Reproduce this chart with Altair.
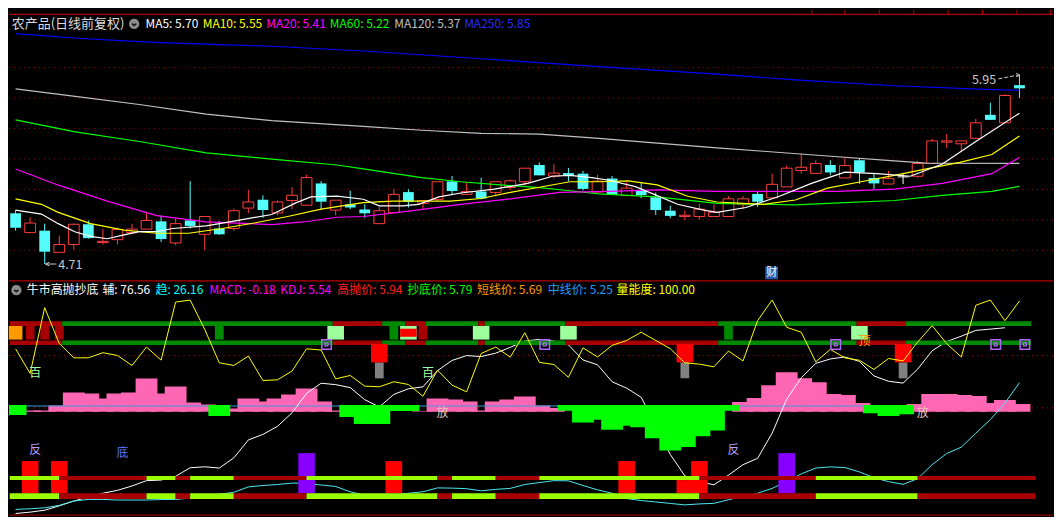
import altair as alt
import numpy as np
import pandas as pd

# ===================== DATA =====================
OPEN = [5.043, 4.916, 4.929, 4.787, 4.838, 4.971, 4.851, 4.870, 4.916, 4.939,
        4.990, 4.848, 4.996, 4.905, 4.943, 4.943, 5.077, 5.132, 5.045, 5.127,
        5.096, 5.239, 5.064, 5.102, 5.068, 4.975, 5.047, 5.182, 5.108, 5.134,
        5.252, 5.167, 5.186, 5.180, 5.212, 5.250, 5.360, 5.288, 5.307, 5.303,
        5.182, 5.271, 5.159, 5.191, 5.148, 5.060, 5.022, 5.022, 5.022, 5.022,
        5.100, 5.170, 5.144, 5.216, 5.324, 5.305, 5.360, 5.275, 5.391, 5.275,
        5.235, 5.282, 5.286, 5.370, 5.510, 5.499, 5.535, 5.689, 5.637, 5.884]
HIGH = [5.064, 5.017, 4.975, 4.897, 4.975, 4.996, 4.939, 4.950, 4.973, 5.047,
        5.028, 5.007, 5.254, 5.022, 4.992, 5.074, 5.195, 5.161, 5.128, 5.214,
        5.296, 5.254, 5.129, 5.191, 5.102, 5.085, 5.201, 5.201, 5.127, 5.250,
        5.288, 5.244, 5.277, 5.250, 5.265, 5.339, 5.377, 5.366, 5.341, 5.322,
        5.296, 5.288, 5.246, 5.250, 5.180, 5.093, 5.061, 5.106, 5.102, 5.155,
        5.155, 5.186, 5.303, 5.356, 5.434, 5.391, 5.391, 5.404, 5.402, 5.307,
        5.320, 5.303, 5.387, 5.531, 5.563, 5.518, 5.662, 5.768, 5.825, 5.951]
LOW = [4.929, 4.912, 4.710, 4.787, 4.804, 4.876, 4.838, 4.838, 4.910, 4.939,
       4.855, 4.834, 4.943, 4.802, 4.901, 4.929, 5.045, 5.013, 5.032, 5.070,
       5.096, 5.064, 5.030, 5.070, 5.013, 4.975, 5.047, 5.081, 5.066, 5.123,
       5.165, 5.167, 5.134, 5.155, 5.197, 5.225, 5.292, 5.271, 5.254, 5.193,
       5.182, 5.163, 5.155, 5.142, 5.032, 5.011, 4.997, 5.003, 5.022, 5.022,
       5.070, 5.085, 5.144, 5.216, 5.303, 5.305, 5.292, 5.275, 5.235, 5.203,
       5.235, 5.235, 5.275, 5.370, 5.472, 5.451, 5.535, 5.656, 5.637, 5.799]
CLOSE = [4.948, 4.979, 4.791, 4.838, 4.971, 4.880, 4.859, 4.937, 4.939, 4.996,
         4.874, 4.975, 4.960, 5.022, 4.905, 5.060, 5.117, 5.064, 5.117, 5.161,
         5.277, 5.119, 5.129, 5.081, 5.043, 5.060, 5.167, 5.119, 5.127, 5.250,
         5.189, 5.186, 5.140, 5.250, 5.256, 5.339, 5.292, 5.307, 5.292, 5.203,
         5.254, 5.163, 5.208, 5.163, 5.064, 5.026, 5.030, 5.070, 5.049, 5.138,
         5.138, 5.119, 5.233, 5.339, 5.345, 5.370, 5.311, 5.356, 5.311, 5.239,
         5.271, 5.282, 5.370, 5.518, 5.518, 5.518, 5.637, 5.656, 5.816, 5.863]

MA5_I = [0, 1.78, 2.93, 4.07, 5.16, 6.3, 7.45, 8.5, 9.68, 10.8, 13.1, 15.3, 17.6, 19.3,
         20.3, 22.1, 23.9, 25, 26.6, 27.7, 29.1, 30.6, 32.9, 35.2, 36.9, 38.1, 39.6, 40.8,
         42.6, 44.1, 45.5, 47.3, 48.2, 50.2, 52.5, 54.7, 57, 59.2, 61.5, 63.7, 66, 69]
MA5_V = [5.064, 5.038, 4.975, 4.922, 4.891, 4.876, 4.901, 4.922, 4.922, 4.943, 4.960, 4.997,
         5.035, 5.113, 5.151, 5.155, 5.135, 5.092, 5.092, 5.102, 5.151, 5.176, 5.201, 5.239,
         5.286, 5.292, 5.277, 5.260, 5.218, 5.159, 5.102, 5.064, 5.049, 5.081, 5.155, 5.239,
         5.313, 5.303, 5.286, 5.366, 5.514, 5.70]
MA10_I = [0, 1.78, 2.93, 5.16, 7.45, 9.68, 11.9, 14.2, 16.4, 18.7, 21, 23.9, 25.9, 29.9, 32,
          34, 36, 38.1, 40.1, 42.1, 44.1, 46.2, 48.2, 51.4, 53.6, 55.8, 58.1, 60.4, 62.6,
          64.9, 67.1, 69]
MA10_V = [5.138, 5.102, 5.049, 4.975, 4.933, 4.912, 4.912, 4.943, 4.979, 5.022, 5.070, 5.113,
          5.123, 5.123, 5.140, 5.180, 5.214, 5.250, 5.250, 5.256, 5.229, 5.155, 5.117, 5.102,
          5.130, 5.208, 5.250, 5.292, 5.334, 5.377, 5.429, 5.55]
MA20_I = [0, 2.9, 6.3, 9.7, 13.1, 17.6, 19.8, 22.1, 23.9, 27.3, 30.6, 34, 37.4, 40.8, 44.1,
          48.2, 56.5, 60.4, 63.7, 67.1, 69]
MA20_V = [5.334, 5.229, 5.123, 5.028, 4.986, 4.969, 4.986, 5.017, 5.022, 5.060, 5.102, 5.138,
          5.180, 5.187, 5.197, 5.187, 5.187, 5.201, 5.239, 5.303, 5.41]
MA60_I = [0, 4.1, 8.5, 13.1, 17.6, 22.1, 23.9, 27.9, 30.6, 33.3, 36, 38.1, 40.1, 44.1, 48.2,
          53.6, 57, 60.4, 63.7, 67.1, 69]
MA60_V = [5.656, 5.577, 5.514, 5.440, 5.398, 5.360, 5.334, 5.277, 5.250, 5.229, 5.212, 5.191,
          5.170, 5.151, 5.108, 5.098, 5.113, 5.127, 5.161, 5.187, 5.22]
MA120_I = [0, 4.1, 8.5, 13.1, 17.6, 23.9, 27.9, 32, 36, 40.1, 44.1, 48.2, 51.4, 55.8, 60.4, 62.6, 69]
MA120_V = [5.859, 5.810, 5.757, 5.694, 5.651, 5.613, 5.588, 5.567, 5.563, 5.535, 5.504, 5.472,
           5.450, 5.419, 5.387, 5.372, 5.37]
MA250_I = [0, 4.5, 9.5, 13.5, 17.6, 23.9, 32, 40.1, 48.2, 53.6, 60.4, 67.1, 69]
MA250_V = [6.222, 6.190, 6.165, 6.152, 6.139, 6.108, 6.057, 6.006, 5.956, 5.918, 5.880, 5.854, 5.85]

GRID_PRICES = [4.8, 5.0, 5.2, 5.4, 5.6, 5.8, 6.0]
LOW_MARK = (2, 4.71)
HIGH_MARK = (69, 5.95)
FIN_EVENT_IDX = [52]

# ---- lower indicator panel (indicator units) ----
HIST = [-10.3, 1.3, 1.3, 6.5, 19.9, 18.9, 13.7, 18.9, 19.9, 34.4,
        18.9, 26.1, 9.6, 7.5, -11.3, 3.4, 13.7, 10.6, 13.7, 17.9,
        24, 10.6, 1.3, -12.4, -19.6, -19.6, -6.2, -6.2, 0.5, 13.7,
        12.7, 10.6, 1.3, 10.6, 12.7, 15.8, 6.5, 4, -6, -18,
        -15.3, -25.4, -21.4, -23, -34.3, -46.8, -43.4, -32.2, -26.4, -6,
        10.1, 14.2, 27.4, 40.7, 34.6, 30.5, 18.3, 17.3, 9.1, -8.5,
        -11.2, -9.5, 8, 18.3, 18.3, 17.3, 16.2, 9.1, 12.2, 8]
KDJ_LINE = [57, 31.6, 99.4, 62.5, 47.7, 47.7, 53, 50.1, 39.8, 58.8,
            45.3, 105.2, 107.3, 77, 42.6, 39.8, 49.5, 24.3, 25, 34,
            57, 55.7, 26, 29.5, 18.5, 17.8, 23, 20.2, 8.1, 35,
            19.5, 12.6, 52.2, 58.8, 48.4, 73.6, 43, 40.8, 27.6, 58,
            48.6, 60.5, 65.6, 74.1, 65.6, 57.1, 42.5, 41.2, 38.4, 54.7,
            44.5, 86, 107.3, 79.2, 74.1, 43.5, 56.4, 47.6, 45.2, 35.7,
            47, 44.5, 63.9, 80.9, 62.2, 48.6, 101.9, 107.3, 86, 106.3]
AUX_LINE = [-112.9, -111.5, -109.5, -105, -100, -96, -92, -89, -84.5, -79,
            -78.4, -74.5, -65.7, -64.7, -66, -55.5, -37, -31.3, -23, -9,
            11, 21.5, 20, 17, 4.5, -3, 10, 15.7, 17.8, 34.5,
            45, 50, 49, 52.5, 58.5, 65, 66.7, 65, 61, 45.5,
            40.5, 23, 16.4, 7, -22, -52, -74, -80, -83.3, -73.3,
            -62.5, -56, -30, 5, 27, 42, 46.5, 48.6, 44, 29,
            23.5, 21.6, 36, 55, 64.5, 70, 76, 77.3, 78.7]
TREND_LINE = [-108.7, -108, -107, -104.5, -100, -98.4, -98.4, -99, -99, -99,
              -98.5, -98.4, -97, -95, -93, -91, -85.5, -84, -83, -81.5,
              -81.8, -83.5, -85, -90.5, -94, -95, -94, -92, -90.5, -86.5,
              -86.7, -87.3, -89.5, -88, -87, -83, -81, -79, -79.2, -84,
              -88.5, -92, -97.5, -99.5, -101, -102.5, -104, -103, -102.4, -98.7,
              -95.5, -92, -87, -80, -72, -66, -64.8, -65.5, -70, -76,
              -80, -82.8, -77, -62.5, -51, -44.5, -30, -16, 1, 22]

TB_START = [-0.4, 3.2, 21.8, 25.2, 26.8, 28.2, 31.8, 32.25, 37.8, 48.3, 57.8, 61.2]
TB_END = [3.2, 21.8, 25.2, 26.8, 28.2, 31.8, 32.25, 37.8, 48.3, 57.8, 61.2, 69.8]
TB_STATE = ["bear", "bull", "bear", "bull", "bear", "bull", "bear", "bull", "bear", "bull", "bear", "bull"]
LB_START = [-0.4, 3, 9, 11, 12, 15, 20, 29, 30, 33, 36, 47, 55, 62]
LB_END = [3, 9, 11, 12, 15, 20, 29, 30, 33, 36, 47, 55, 62, 70.1]
LB_STATE = ["bull", "bear", "bull", "bear", "bull", "bear", "bull", "bear", "bull", "bear", "bull", "bear", "bull", "bear"]

BLOCK_IDX = [0, 1, 2, 3, 14, 22, 26, 27, 28, 32, 38, 49, 58]
BLOCK_KIND = ["start", "weak", "weak", "weak", "hold", "buy", "hold", "buy", "weak", "buy", "buy", "hold", "buy"]
STRIPE_IDX = [27]
SELL_IDX = [25, 46, 61]
PURPLE_SQ_IDX = [21, 36, 56, 67, 69]
SIG_BAR_IDX = [1, 3, 20, 26, 42, 46, 47, 53]
SIG_BAR_KIND = ["red", "red", "purple", "red", "red", "short", "red", "purple"]
LBL_IDX = [1, 28, 29, 62, 1, 7, 49, 58]
LBL_TEXT = ["百", "百", "放", "放", "反", "底", "反", "顶"]
LBL_LEVEL = [32, 32, -9.7, -9.7, -47.6, -51, -47, 65.5]

TOP_HDR_TEXT = ["农产品(日线前复权)", "MA5: 5.70", "MA10: 5.55", "MA20: 5.41", "MA60: 5.22", "MA120: 5.37", "MA250: 5.85"]
BOT_HDR_TEXT = ["牛市高抛抄底", "辅: 76.56", "趋: 26.16", "MACD: -0.18", "KDJ: 5.54", "高抛价: 5.94",
                "抄底价: 5.79", "短线价: 5.69", "中线价: 5.25", "量能度: 100.00"]

# ===================== LAYOUT / STYLE =====================
W, H1, H2 = 1046, 271, 237
SX = W / 1062.0
SY1 = H1 / 280.0
SY2 = H2 / 244.0
FONT = "Noto Sans CJK SC"
RED = "#ff3c3c"
CYAN = "#54fcfc"
DARKRED = "#a80000"

TOP_HDR_X = [2.8, 138.8, 197, 261.7, 326.4, 391.9, 463]
TOP_HDR_COL = ["#dcdcdc", "#ffffff", "#ffff00", "#ff00ff", "#00ff00", "#c0c0c0", "#2a2aff"]
BOT_HDR_X = [18, 95, 149, 204, 276, 334, 405, 476, 548, 618]
BOT_HDR_COL = ["#ffffff", "#ffffff", "#00ffff", "#ff00ff", "#ff00ff", "#ff2020", "#00ff00", "#ff9900", "#1e9bff", "#ffff00"]
MA_COLORS = {"MA5": "#ffffff", "MA10": "#ffff00", "MA20": "#ff00ff", "MA60": "#00ff00",
             "MA120": "#c0c0c0", "MA250": "#0000ff"}

xsc = alt.Scale(domain=[-0.453, 71.305], nice=False, zero=False)
ysc1 = alt.Scale(domain=[4.6054, 6.3804], nice=False, zero=False)
ysc2 = alt.Scale(domain=[-116.0, 128.0], nice=False, zero=False)


def XQ(f):
    return alt.X(f, type="quantitative", scale=xsc, axis=None)


def Y1(f):
    return alt.Y(f, type="quantitative", scale=ysc1, axis=None)


def Y2(f):
    return alt.Y(f, type="quantitative", scale=ysc2, axis=None)


def one():
    return pd.DataFrame({"t": ["x"]})


def vtext(txt, px, py, color, size=12.0, align="left"):
    return alt.Chart(pd.DataFrame({"t": [txt]})).mark_text(
        align=align, baseline="middle", font=FONT, fontSize=size, color=color
    ).encode(x=alt.value(px), y=alt.value(py), text="t:N")


def vrule(x0, x1, y0, y1, color, width=1.0, dash=None):
    kw = dict(color=color, strokeWidth=width)
    if dash:
        kw["strokeDash"] = dash
    return alt.Chart(one()).mark_rule(**kw).encode(
        x=alt.value(x0), x2=alt.value(x1), y=alt.value(y0), y2=alt.value(y1))


def icon(px, py):
    c = alt.Chart(one()).mark_point(shape="circle", filled=True, size=105, color="#8c8c8c", opacity=1).encode(
        x=alt.value(px), y=alt.value(py))
    v = alt.Chart(one()).mark_point(shape="M-0.8,-0.3L0,0.4L0.8,-0.3", filled=False, color="#1a1a1a",
                                    strokeWidth=1.6, size=28, opacity=1).encode(x=alt.value(px), y=alt.value(py + 0.5))
    return [c, v]


# ===================== TOP PANEL =====================
n = len(OPEN)
cd = pd.DataFrame({"i": np.arange(n), "o": OPEN, "h": HIGH, "l": LOW, "c": CLOSE})
cd["dir"] = np.select([cd.c > cd.o, cd.c < cd.o], ["up", "down"], "flat")
cd["col"] = cd["dir"].map({"up": RED, "down": CYAN, "flat": "#ffffff"})
cd["x0"] = cd.i - 0.37
cd["x1"] = cd.i + 0.37

top_layers = []
top_layers.append(vrule(0, W, 5 * SY1, 5 * SY1, "#b40000", 1.2))
for xr in [816.7, 850.3, 885.3, 920.3, 955.3, 990.3, 1025.3, 1059.3]:
    top_layers.append(vrule(xr * SX, xr * SX, 0, 5 * SY1, "#b40000", 1))

grid = alt.Chart(pd.DataFrame({"p": GRID_PRICES})).mark_rule(
    color="#a00000", strokeDash=[1, 4], strokeWidth=1).encode(y=Y1("p:Q"))
top_layers.append(grid)

wick = alt.Chart(cd).mark_rule(strokeWidth=1).encode(
    x=XQ("i:Q"), y=Y1("l:Q"), y2="h:Q", color=alt.Color("col:N", scale=None))
up = alt.Chart(cd[cd.dir == "up"]).mark_rect(fill="black", stroke=RED, strokeWidth=1).encode(
    x=XQ("x0:Q"), x2="x1:Q", y=Y1("o:Q"), y2="c:Q")
dn = alt.Chart(cd[cd.dir == "down"]).mark_rect(color=CYAN).encode(
    x=XQ("x0:Q"), x2="x1:Q", y=Y1("o:Q"), y2="c:Q")
fl = alt.Chart(cd[cd.dir == "flat"]).mark_rule(color="#ffffff", strokeWidth=1).encode(
    x=XQ("x0:Q"), x2="x1:Q", y=Y1("o:Q"))
top_layers += [wick, up, dn, fl]

ma_rows = []
for name, I, V in [("MA250", MA250_I, MA250_V), ("MA120", MA120_I, MA120_V), ("MA60", MA60_I, MA60_V),
                   ("MA20", MA20_I, MA20_V), ("MA10", MA10_I, MA10_V), ("MA5", MA5_I, MA5_V)]:
    for a, b in zip(I, V):
        ma_rows.append({"name": name, "i": a, "v": b, "col": MA_COLORS[name]})
mad = pd.DataFrame(ma_rows)
ma = alt.Chart(mad).mark_line(strokeWidth=1.2, clip=True).encode(
    x=XQ("i:Q"), y=Y1("v:Q"), color=alt.Color("col:N", scale=None), detail="name:N")
top_layers.append(ma)

# low / high annotations
lo = pd.DataFrame({"i": [LOW_MARK[0]], "p": [LOW_MARK[1]], "t": [f"{LOW_MARK[1]:.2f}"]})
lo["a"] = lo.i + 0.05
lo["b"] = lo.i + 0.8
lo["tx"] = lo.i + 0.93
top_layers.append(alt.Chart(lo).mark_rule(color="#c8c8c8", strokeWidth=1).encode(x=XQ("a:Q"), x2="b:Q", y=Y1("p:Q")))
top_layers.append(alt.Chart(lo).mark_point(shape="M1,-1L-1,0L1,1", filled=False, color="#c8c8c8", size=14,
                                           strokeWidth=1, opacity=1).encode(x=XQ("a:Q"), y=Y1("p:Q"), xOffset=alt.value(2)))
top_layers.append(alt.Chart(lo).mark_text(align="left", baseline="middle", font=FONT, fontSize=12.5,
                                          color="#c8c8c8", dy=1).encode(x=XQ("tx:Q"), y=Y1("p:Q"), text="t:N"))

hi = pd.DataFrame({"i": [HIGH_MARK[0]], "p": [HIGH_MARK[1]], "t": [f"{HIGH_MARK[1]:.2f}"]})
hi["a"] = hi.i - 1.45
hi["b"] = hi.i - 0.1
hi["p0"] = hi.p - 0.025
hi["tx"] = hi.i - 1.6
top_layers.append(alt.Chart(hi).mark_rule(color="#c8c8c8", strokeWidth=1, strokeDash=[4, 2]).encode(
    x=XQ("a:Q"), x2="b:Q", y=Y1("p0:Q"), y2="p:Q"))
top_layers.append(alt.Chart(hi).mark_point(shape="M-1,-1L1,0L-1,1", filled=False, color="#c8c8c8", size=14,
                                           strokeWidth=1, opacity=1).encode(x=XQ("b:Q"), y=Y1("p:Q")))
top_layers.append(alt.Chart(hi).mark_text(align="right", baseline="middle", font=FONT, fontSize=12.5,
                                          color="#c8c8c8", dy=5).encode(x=XQ("tx:Q"), y=Y1("p:Q"), text="t:N"))

fe = pd.DataFrame({"i": FIN_EVENT_IDX, "t": ["财"] * len(FIN_EVENT_IDX)})
fe["a"] = fe.i - 0.47
fe["b"] = fe.i + 0.40
top_layers.append(alt.Chart(fe).mark_rect(color="#2a5aa8").encode(
    x=XQ("a:Q"), x2="b:Q", y=alt.value(266 * SY1), y2=alt.value(279.3 * SY1)))
top_layers.append(alt.Chart(fe).mark_text(align="center", baseline="middle", font=FONT, fontSize=11,
                                          color="#ffffff", dx=-0.5).encode(x=XQ("i:Q"), y=alt.value(272.6 * SY1), text="t:N"))

hy = 15 * SY1
for k, (txt, xr, col) in enumerate(zip(TOP_HDR_TEXT, TOP_HDR_X, TOP_HDR_COL)):
    top_layers.append(vtext(txt, xr * SX, hy, col, 13 if k == 0 else 12))
top_layers += icon(127.3 * SX, hy)

top = alt.layer(*top_layers).properties(width=W, height=H1)

# ===================== BOTTOM PANEL =====================
LV_MID = 50
LV_ZERO = -4
LV_BLUE = -2
PINK_BASE = -8
GREEN_BASE = -1
BAND_A = (80.5, 85.5)
BAND_B = (61.0, 65.5)
BLOCK = (66.5, 80.5)
STRIPE = (69.4, 77.7)
SELL_RED = (43.0, 62.0)
SELL_GREY = (26.5, 43.0)
LBAND_1 = (-78.4, -74.3)
LBAND_2 = (-98.0, -91.9)
SQ_LEVEL = 61.5

bot = []
bot.append(alt.Chart(pd.DataFrame({"v": [LV_MID]})).mark_rule(color="#c00000", strokeDash=[1, 4], strokeWidth=1).encode(y=Y2("v:Q")))
bot.append(alt.Chart(pd.DataFrame({"v": [LV_ZERO]})).mark_rule(color="#c00000", strokeDash=[1, 4], strokeWidth=1).encode(y=Y2("v:Q")))

hd = pd.DataFrame({"i": np.arange(n), "h": HIST})
hd["x0"] = hd.i - 0.75
hd["x1"] = hd.i + 0.75
pos = hd[hd.h > 0].copy()
pos["lo"] = PINK_BASE
pos["hi"] = PINK_BASE + pos.h
neg = hd[hd.h < 0].copy()
neg["lo"] = GREEN_BASE
neg["hi"] = GREEN_BASE + neg.h
bot.append(alt.Chart(pos).mark_rect(color="#ff66b4", clip=True).encode(x=XQ("x0:Q"), x2="x1:Q", y=Y2("lo:Q"), y2="hi:Q"))
bot.append(alt.Chart(pd.DataFrame({"a": [0], "b": [61], "v": [LV_BLUE]})).mark_rule(color="#3c9be0", strokeWidth=1).encode(
    x=XQ("a:Q"), x2="b:Q", y=Y2("v:Q")))

aux = pd.DataFrame({"i": np.arange(len(AUX_LINE)), "v": AUX_LINE})
trd = pd.DataFrame({"i": np.arange(len(TREND_LINE)), "v": TREND_LINE})
bot.append(alt.Chart(aux).mark_line(color="#ffffff", strokeWidth=1, clip=True).encode(x=XQ("i:Q"), y=Y2("v:Q")))
bot.append(alt.Chart(trd).mark_line(color="#4ce8f0", strokeWidth=1, clip=True).encode(x=XQ("i:Q"), y=Y2("v:Q")))
bot.append(alt.Chart(neg).mark_rect(color="#00ff00", clip=True).encode(x=XQ("x0:Q"), x2="x1:Q", y=Y2("lo:Q"), y2="hi:Q"))

sb = pd.DataFrame({"i": SIG_BAR_IDX, "kind": SIG_BAR_KIND})
sb["x0"] = sb.i - 0.57
sb["x1"] = sb.i + 0.57
sb["lo"] = LBAND_2[1]
sb["hi"] = sb.kind.map({"red": -58.8, "purple": -50.6, "short": LBAND_1[0]})
sb["col"] = sb.kind.map({"red": "#ff0000", "purple": "#8800ff", "short": "#ff0000"})
bot.append(alt.Chart(sb).mark_rect().encode(x=XQ("x0:Q"), x2="x1:Q", y=Y2("lo:Q"), y2="hi:Q",
                                            color=alt.Color("col:N", scale=None)))

lrows = []
for a, b, s in zip(LB_START, LB_END, LB_STATE):
    for lv in (LBAND_1, LBAND_2):
        lrows.append({"a": a, "b": b, "lo": lv[0], "hi": lv[1], "col": "#9cff00" if s == "bull" else DARKRED})
bot.append(alt.Chart(pd.DataFrame(lrows)).mark_rect(clip=True).encode(
    x=XQ("a:Q"), x2="b:Q", y=Y2("lo:Q"), y2="hi:Q", color=alt.Color("col:N", scale=None)))

trows = []
for a, b, s in zip(TB_START, TB_END, TB_STATE):
    for lv in (BAND_A, BAND_B):
        trows.append({"a": a, "b": b, "lo": lv[0], "hi": lv[1], "col": "#008a00" if s == "bull" else DARKRED})
bot.append(alt.Chart(pd.DataFrame(trows)).mark_rect(clip=True).encode(
    x=XQ("a:Q"), x2="b:Q", y=Y2("lo:Q"), y2="hi:Q", color=alt.Color("col:N", scale=None)))

bk = pd.DataFrame({"i": BLOCK_IDX, "kind": BLOCK_KIND})
half = {"start": 0.47, "weak": 0.3, "hold": 0.3, "buy": 0.57}
bcol = {"start": "#ff9900", "weak": DARKRED, "hold": "#008a00", "buy": "#9cff9c"}
bk["x0"] = bk.i - bk.kind.map(half)
bk["x1"] = bk.i + bk.kind.map(half)
bk["col"] = bk.kind.map(bcol)
bk["lo"] = BLOCK[0]
bk["hi"] = BLOCK[1]
bot.append(alt.Chart(bk).mark_rect().encode(x=XQ("x0:Q"), x2="x1:Q", y=Y2("lo:Q"), y2="hi:Q",
                                            color=alt.Color("col:N", scale=None)))
st = pd.DataFrame({"i": STRIPE_IDX})
st["x0"] = st.i - 0.57
st["x1"] = st.i + 0.57
st["lo"] = STRIPE[0]
st["hi"] = STRIPE[1]
bot.append(alt.Chart(st).mark_rect(color="#ff0000").encode(x=XQ("x0:Q"), x2="x1:Q", y=Y2("lo:Q"), y2="hi:Q"))

sl = pd.DataFrame({"i": SELL_IDX})
sl["x0"] = sl.i - 0.57
sl["x1"] = sl.i + 0.57
sl["g0"] = sl.i - 0.3
sl["g1"] = sl.i + 0.3
sl["r_lo"], sl["r_hi"] = SELL_RED
sl["g_lo"], sl["g_hi"] = SELL_GREY
bot.append(alt.Chart(sl).mark_rect(color="#808080").encode(x=XQ("g0:Q"), x2="g1:Q", y=Y2("g_lo:Q"), y2="g_hi:Q"))
bot.append(alt.Chart(sl).mark_rect(color="#ff0000").encode(x=XQ("x0:Q"), x2="x1:Q", y=Y2("r_lo:Q"), y2="r_hi:Q"))

kd = pd.DataFrame({"i": np.arange(len(KDJ_LINE)), "v": KDJ_LINE})
bot.append(alt.Chart(kd).mark_line(color="#ffff00", strokeWidth=1, clip=True).encode(x=XQ("i:Q"), y=Y2("v:Q")))

ps = pd.DataFrame({"i": PURPLE_SQ_IDX})
ps["xs"] = ps.i + 0.37
ps["v"] = SQ_LEVEL
bot.append(alt.Chart(ps).mark_square(filled=False, size=90, color="#b366ff", strokeWidth=1.5, opacity=1).encode(
    x=XQ("xs:Q"), y=Y2("v:Q")))
bot.append(alt.Chart(ps).mark_square(filled=False, size=9, color="#b366ff", strokeWidth=1.2, opacity=1).encode(
    x=XQ("xs:Q"), y=Y2("v:Q")))

LBL_COLORS = {"百": "#a0ffa0", "放": "#e8c8b8", "反": "#b4a0ff", "底": "#5a78ff", "顶": "#ff9900"}
lb = pd.DataFrame({"i": LBL_IDX, "t": LBL_TEXT, "v": LBL_LEVEL})
lb["col"] = lb.t.map(LBL_COLORS)
bot.append(alt.Chart(lb).mark_text(align="center", baseline="middle", font=FONT, fontSize=12, dx=5).encode(
    x=XQ("i:Q"), y=Y2("v:Q"), text="t:N", color=alt.Color("col:N", scale=None)))

by = (290.5 - 280) * SY2
for txt, xr, col in zip(BOT_HDR_TEXT, BOT_HDR_X, BOT_HDR_COL):
    bot.append(vtext(txt, xr * SX, by, col, 12))
bot += icon(7.5 * SX, by)
bot.append(vrule(0, W, 1 * SY2, 1 * SY2, "#b40000", 1.3))
bot.append(vrule(0, W, 242.5 * SY2, 242.5 * SY2, "#8b0000", 1.3))

bottom = alt.layer(*bot).properties(width=W, height=H2)

chart = alt.vconcat(top, bottom, spacing=0).resolve_scale(
    x="independent", y="independent"
).properties(background="black", padding=0).configure_view(strokeWidth=0)

chart.save("out.html", embed_options={"renderer": "svg", "actions": False})
